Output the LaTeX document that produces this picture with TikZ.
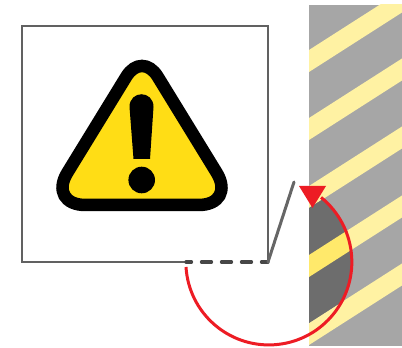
\documentclass[tikz,border=0pt]{standalone}
\definecolor{wallgray}{HTML}{A6A6A6}
\definecolor{sweptgray}{HTML}{6D6D6D}
\definecolor{stripepale}{HTML}{FFF2A3}
\definecolor{stripebright}{HTML}{FFE96B}
\definecolor{signyellow}{HTML}{FFDD15}
\definecolor{swingred}{HTML}{ED1C24}
\tikzset{
  frameline/.style={draw=black!62, line width=1.3pt},
  doorline/.style={draw=black!60, line width=3pt, line cap=round},
  gapline/.style={draw=black!72, line width=3.3pt, line cap=round, dash pattern=on 10pt off 10pt, dash phase=4.5pt},
  swingline/.style={draw=swingred, line width=3pt}
}
\begin{document}
\begin{tikzpicture}[x=1pt, y=1pt]
 \useasboundingbox (0,0) rectangle (402,348);
 \fill[white] (0,0) rectangle (402,348);
 % wall
 \fill[wallgray] (309,2) rectangle (402,343);
 \begin{scope}
  \clip (309,2) rectangle (402,343);
  \foreach \a in {50,118,186,255,323}
   \fill[stripepale] (309,348-\a) -- (402,407.5-\a) -- (402,385.5-\a) -- (309,326-\a) -- cycle;
  \clip (268,86) circle (83);
  \fill[sweptgray] (309,140) -- (402,199.5) -- (402,84.5) -- (309,25) -- cycle;
  \fill[stripebright] (309,93) -- (402,152.5) -- (402,130.5) -- (309,71) -- cycle;
 \end{scope}
 % frame
 \coordinate (hinge) at (268,86);
 \coordinate (gapstart) at (186,86);
 \coordinate (doorend) at (294,166);
 \draw[frameline] (gapstart) -- (22,86) -- (22,322) -- (268,322) -- (hinge);
 \draw[gapline] (gapstart) -- (hinge);
 \draw[doorline] (hinge) -- (doorend);
 % sign
 \draw[fill=signyellow, line width=12.5pt]
  (126.3,271.4) .. controls (135,285.6) and (149,285.6) .. (157.7,271.4)
  -- (216.6,175.4) .. controls (227.6,157.5) and (219.5,143) .. (198.5,143)
  -- (85.5,143) .. controls (64.5,143) and (56.4,157.5) .. (67.4,175.4) -- cycle;
 \fill (129.5,241) .. controls (129.5,258) and (153.5,258) .. (153.5,241)
  -- (150,189) -- (133.5,189) -- cycle;
 \fill (141.7,168) circle (13.3);
 % swing
 \draw[swingline] (186,81) arc (183.5:411:83);
 \fill[swingred] (299,162) -- (326,162) -- (312.5,140) -- cycle;
\end{tikzpicture}
\end{document}
